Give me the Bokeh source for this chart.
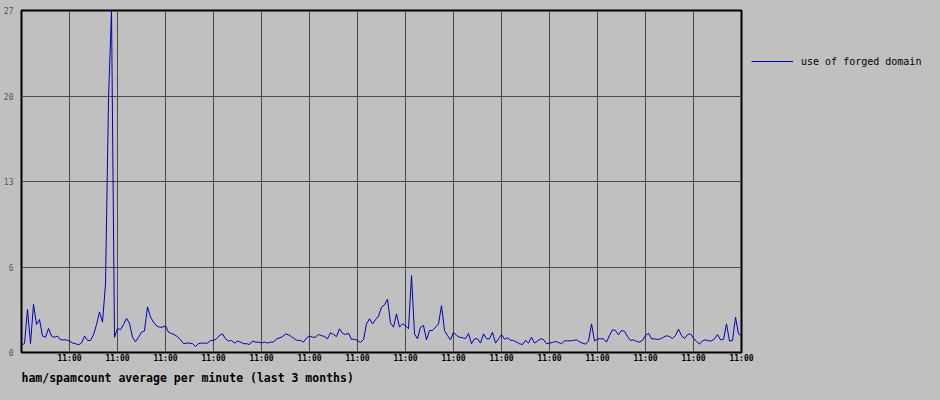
from bokeh.plotting import figure
from bokeh.models import Range1d, FixedTicker, Legend, LegendItem, Title
from bokeh.embed import file_html
from bokeh.resources import INLINE

# ---- data ----
STEP_HOURS = 1.5  # one sample every 1.5 hours
forged_domain = [
    # day 0
    0.6, 0.7, 3.4, 0.7, 3.8, 2.2, 2.6, 1.3, 1.2, 1.9, 1.3, 1.2, 1.3, 1.0, 1.0, 1.0,
    # day 1-2
    0.9, 0.75, 0.7, 0.6, 0.75, 1.3, 0.95, 0.95, 1.4, 2.2, 3.2, 2.4, 5.4, 20.0, 27.0, 1.2,
    1.9, 1.8, 2.2, 2.7, 2.3, 1.2, 0.85, 1.2, 1.6, 1.7, 3.6, 2.8, 2.4, 2.1, 2.0, 2.0,
    # day 3-5
    2.1, 1.6, 1.5, 1.4, 1.25, 1.0, 0.7, 0.74, 0.74, 0.7, 0.47, 0.7, 0.74, 0.74, 0.74, 0.95,
    0.95, 1.08, 1.34, 1.47, 1.08, 0.9, 0.95, 0.74, 0.9, 0.82, 0.7, 0.7, 0.63, 0.9, 0.82, 0.82,
    0.76, 0.82, 0.74, 0.82, 0.82, 1.08, 1.15, 1.25, 1.47, 1.4, 1.25, 1.08, 0.95, 0.95, 0.82, 1.15,
    # day 6-8
    1.3, 1.21, 1.21, 1.42, 1.34, 1.26, 1.08, 1.55, 1.42, 1.26, 1.87, 1.52, 1.42, 1.52, 1.03, 1.05,
    0.95, 0.79, 1.03, 2.26, 2.66, 2.26, 2.6, 2.87, 3.58, 3.76, 4.2, 2.34, 2.0, 3.05, 2.0, 2.26,
    2.13, 1.87, 6.08, 1.47, 1.08, 2.0, 2.13, 1.0, 1.74, 1.74, 2.0, 2.26, 3.7, 1.74, 1.34, 1.0,
    # day 9-11
    1.6, 1.34, 1.21, 1.16, 1.1, 1.5, 0.69, 1.08, 1.08, 0.74, 1.47, 1.08, 1.08, 1.6, 0.74, 1.08,
    1.42, 1.05, 1.16, 0.97, 0.95, 0.82, 0.69, 0.63, 0.95, 0.74, 1.21, 0.74, 0.9, 1.08, 1.03, 0.69,
    0.74, 0.79, 0.87, 0.79, 0.69, 0.92, 0.92, 0.92, 0.95, 1.0, 0.84, 0.74, 0.66, 0.9, 2.26, 0.9,
    # day 12-15
    1.08, 1.08, 1.08, 0.82, 1.34, 1.79, 1.74, 1.39, 1.74, 1.68, 1.26, 0.95, 1.0, 0.87, 0.82, 0.95,
    1.34, 1.52, 1.08, 1.08, 1.03, 1.08, 1.21, 1.32, 1.26, 1.1, 1.34, 1.84, 1.34, 1.1, 1.42, 1.47,
    1.13, 0.87, 0.66, 0.92, 1.0, 0.92, 0.92, 1.08, 1.42, 1.0, 1.03, 2.26, 0.9, 0.95, 2.79, 1.47,
    1.34,
]
hours = [i * STEP_HOURS for i in range(len(forged_domain))]

x_tick_hours = [24 * d for d in range(1, 16)]
x_tick_labels = ["11:00"] * len(x_tick_hours)
y_ticks = [0, 6.75, 13.5, 20.25, 27]
y_tick_labels = ["0", "6", "13", "20", "27"]
series_name = "use of forged domain"
title_text = "ham/spamcount average per minute (last 3 months)"

BG = "#c0c0c0"
MONO = "DejaVu Sans Mono"

p = figure(frame_width=720, frame_height=342, output_backend="svg", toolbar_location=None,
           x_range=Range1d(0, 360), y_range=Range1d(0, 27),
           min_border_left=12, min_border_right=192, min_border_top=10, min_border_bottom=0,
           background_fill_color=BG, border_fill_color=BG)

r = p.line(hours, forged_domain, line_color="#0000b4", line_width=1)

p.outline_line_color = "black"
p.outline_line_width = 2
p.outline_line_alpha = 1

# x axis
p.xaxis.ticker = FixedTicker(ticks=x_tick_hours)
p.xaxis.major_label_overrides = {h: lab for h, lab in zip(x_tick_hours, x_tick_labels)}
p.xaxis.axis_line_color = None
p.xaxis.major_tick_line_color = None
p.xaxis.minor_tick_line_color = None
p.xaxis.major_tick_out = 0
p.xaxis.major_tick_in = 0
p.xaxis.major_label_standoff = 1
p.xaxis.major_label_text_font = MONO
p.xaxis.major_label_text_font_style = "bold"
p.xaxis.major_label_text_font_size = "8px"
p.xaxis.major_label_text_color = "black"

# y axis
p.yaxis.ticker = FixedTicker(ticks=y_ticks)
p.yaxis.major_label_overrides = {t: lab for t, lab in zip(y_ticks, y_tick_labels)}
p.yaxis.axis_line_color = None
p.yaxis.major_tick_line_color = None
p.yaxis.minor_tick_line_color = None
p.yaxis.major_label_standoff = 2
p.yaxis.major_label_text_font = MONO
p.yaxis.major_label_text_font_size = "8px"
p.yaxis.major_label_text_color = "#555555"

# grid
p.xgrid.ticker = FixedTicker(ticks=x_tick_hours)
p.ygrid.ticker = FixedTicker(ticks=y_ticks)
for g in (p.xgrid, p.ygrid):
    g.grid_line_color = "#4a4a4a"
    g.grid_line_width = 1
    g.grid_line_alpha = 1

# legend in the right-hand panel
legend = Legend(items=[LegendItem(label=series_name, renderers=[r])],
                location="top_left", orientation="vertical",
                glyph_width=42, glyph_height=82, label_standoff=8,
                label_text_font=MONO, label_text_font_size="10px",
                label_text_color="black",
                border_line_color=None, background_fill_alpha=0,
                padding=0, margin=10, spacing=0)
p.add_layout(legend, "right")

# title below
p.add_layout(Title(text=title_text, align="left", text_font=MONO,
                   text_font_style="bold", text_font_size="11.5px",
                   text_color="black", standoff=6), "below")

html = file_html(p, INLINE, title="forged domain")
html = html.replace("</head>", "<style>body{background:#c0c0c0}</style></head>", 1)
open("out.html", "w").write(html)
